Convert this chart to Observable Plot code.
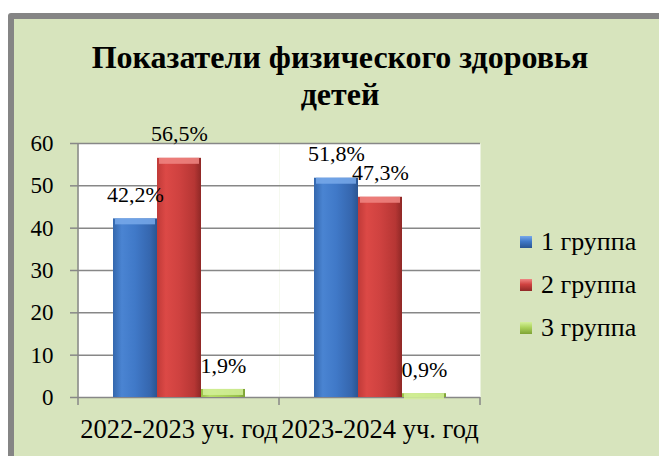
<!DOCTYPE html>
<html>
<head>
<meta charset="utf-8">
<script src="https://cdn.jsdelivr.net/npm/d3@7"></script>
<script src="https://cdn.jsdelivr.net/npm/@observablehq/plot@0.6"></script>
<style>
  html, body { margin: 0; padding: 0; background: #ffffff; }
  #page { position: relative; width: 659px; height: 456px; overflow: hidden;
          font-family: "Liberation Serif", "Times New Roman", serif; }
  #frame { position: absolute; left: 8px; top: 13px; width: 680px; height: 480px; box-sizing: border-box;
           border: 6px solid #858585; border-radius: 3px; background: #D7E4BD; }
  #title { position: absolute; left: 40px; width: 600px; top: 39px; text-align: center; font-weight: bold;
           font-size: 32px; line-height: 37px; color: #000;
           font-family: "Liberation Serif", "Times New Roman", serif; }
  #chart { position: absolute; left: 0; top: 0; }
  #legend { position: absolute; left: 520px; top: 220px; font-size: 26px; color: #000;
            font-family: "Liberation Serif", "Times New Roman", serif; }
  .item { height: 43px; display: flex; align-items: center; white-space: nowrap; }
  .sw { width: 12px; height: 12px; margin-right: 9px; box-sizing: border-box; }
</style>
</head>
<body>
<div id="page">
  <div id="frame"></div>
  <div id="title"></div>
  <div id="chart"></div>
  <div id="legend"></div>
</div>
<script>
const titleLines = ["Показатели физического здоровья", "детей"];
const categories = ["2022-2023 уч. год", "2023-2024 уч. год"];
const groups = ["1 группа", "2 группа", "3 группа"];
const group1 = [42.2, 51.8];
const group2 = [56.5, 47.3];
const group3 = [1.9, 0.9];
const valueLabels = [["42,2%", "51,8%"], ["56,5%", "47,3%"], ["1,9%", "0,9%"]];
const yTicks = [0, 10, 20, 30, 40, 50, 60];

const seriesValues = [group1, group2, group3];
const data = [];
groups.forEach((g, gi) => categories.forEach((c, ci) => {
  data.push({cat: c, group: g, value: seriesValues[gi][ci], label: valueLabels[gi][ci]});
}));

const gradIds = ["gBlue", "gRed", "gGreen"];
const gradStops = [
  ["#3467ad", "#4a84d2", "#4079c8", "#3566ae", "#2a5591"],
  ["#c03a38", "#dc4946", "#cf4240", "#b63634", "#8f2826"],
  ["#98bf45", "#b8de6a", "#acd35c", "#98c04a", "#7ea235"]
];
const topColors = ["#78a9ea", "#f08683", "#d4f09a"];

document.getElementById("title").innerHTML = titleLines.join("<br>");

const W = 659, H = 456;
const mL = 78, mR = 179, mT = 143, mB = 59;
const gridColor = "#878787";
const font = "Liberation Serif, Times New Roman, serif";

const marks = [
  Plot.frame({fill: "white", stroke: null}),
  Plot.ruleY(yTicks, {y: d => d, stroke: gridColor, strokeWidth: 1.5}),
  ...groups.map((g, gi) => Plot.barY(data.filter(d => d.group === g), {
    fx: "cat", x: "group", y: "value", fill: `url(#${gradIds[gi]})`
  })),
  ...groups.map((g, gi) => Plot.barY(data.filter(d => d.group === g), {
    fx: "cat", x: "group", y1: "value", y2: "value", fill: topColors[gi], fillOpacity: 0.85,
    insetBottom: -6, insetLeft: 2, insetRight: 2
  })),
  Plot.text(data, {fx: "cat", x: "group", y: "value", text: "label", dy: -24,
    fontSize: 22, fontFamily: font, fill: "black"}),
  Plot.axisY({ticks: yTicks, tickSize: 8, tickPadding: 17, fontSize: 23, fontFamily: font,
    stroke: gridColor, strokeWidth: 1.5, color: "black", tickFormat: d => String(d)}),
  Plot.axisFx({anchor: "bottom", tickSize: 0, tickPadding: 22, fontSize: 26.5, fontFamily: font, label: null})
];

const chart = Plot.plot({
  width: W, height: H,
  marginLeft: mL, marginRight: mR, marginTop: mT, marginBottom: mB,
  style: {background: "transparent", overflow: "visible", color: "black", fontFamily: font},
  fx: {domain: categories, padding: 0, label: null},
  x: {domain: groups, paddingInner: 0, paddingOuter: 0.75, axis: null},
  y: {domain: [0, 60], label: null},
  marks
});

// gradients for the 3D-style bars
const svg = d3.select(chart);
const defs = svg.insert("defs", ":first-child");
gradIds.forEach((id, i) => {
  const lg = defs.append("linearGradient").attr("id", id).attr("x1", 0).attr("x2", 1).attr("y1", 0).attr("y2", 0);
  [0, 0.2, 0.5, 0.85, 1].forEach((o, k) => lg.append("stop").attr("offset", o).attr("stop-color", gradStops[i][k]));
});

// y-axis line and category boundary ticks
const yBase = H - mB;
const g = svg.append("g").attr("stroke", gridColor).attr("stroke-width", 1.5);
g.append("line").attr("x1", mL).attr("x2", mL).attr("y1", mT).attr("y2", yBase + 8);
const pw = (W - mL - mR) / categories.length;
for (let i = 1; i <= categories.length; i++) {
  g.append("line").attr("x1", mL + i * pw).attr("x2", mL + i * pw).attr("y1", yBase).attr("y2", yBase + 8);
}

document.getElementById("chart").appendChild(chart);

// legend
const legend = document.getElementById("legend");
groups.forEach((gname, i) => {
  const it = document.createElement("div");
  it.className = "item";
  const sw = document.createElement("div");
  sw.className = "sw";
  sw.style.background = `linear-gradient(to bottom, ${topColors[i]} 0%, ${gradStops[i][2]} 45%, ${gradStops[i][4]} 100%)`;
  const tx = document.createElement("span");
  tx.textContent = gname;
  it.appendChild(sw); it.appendChild(tx);
  legend.appendChild(it);
});
</script>
</body>
</html>
